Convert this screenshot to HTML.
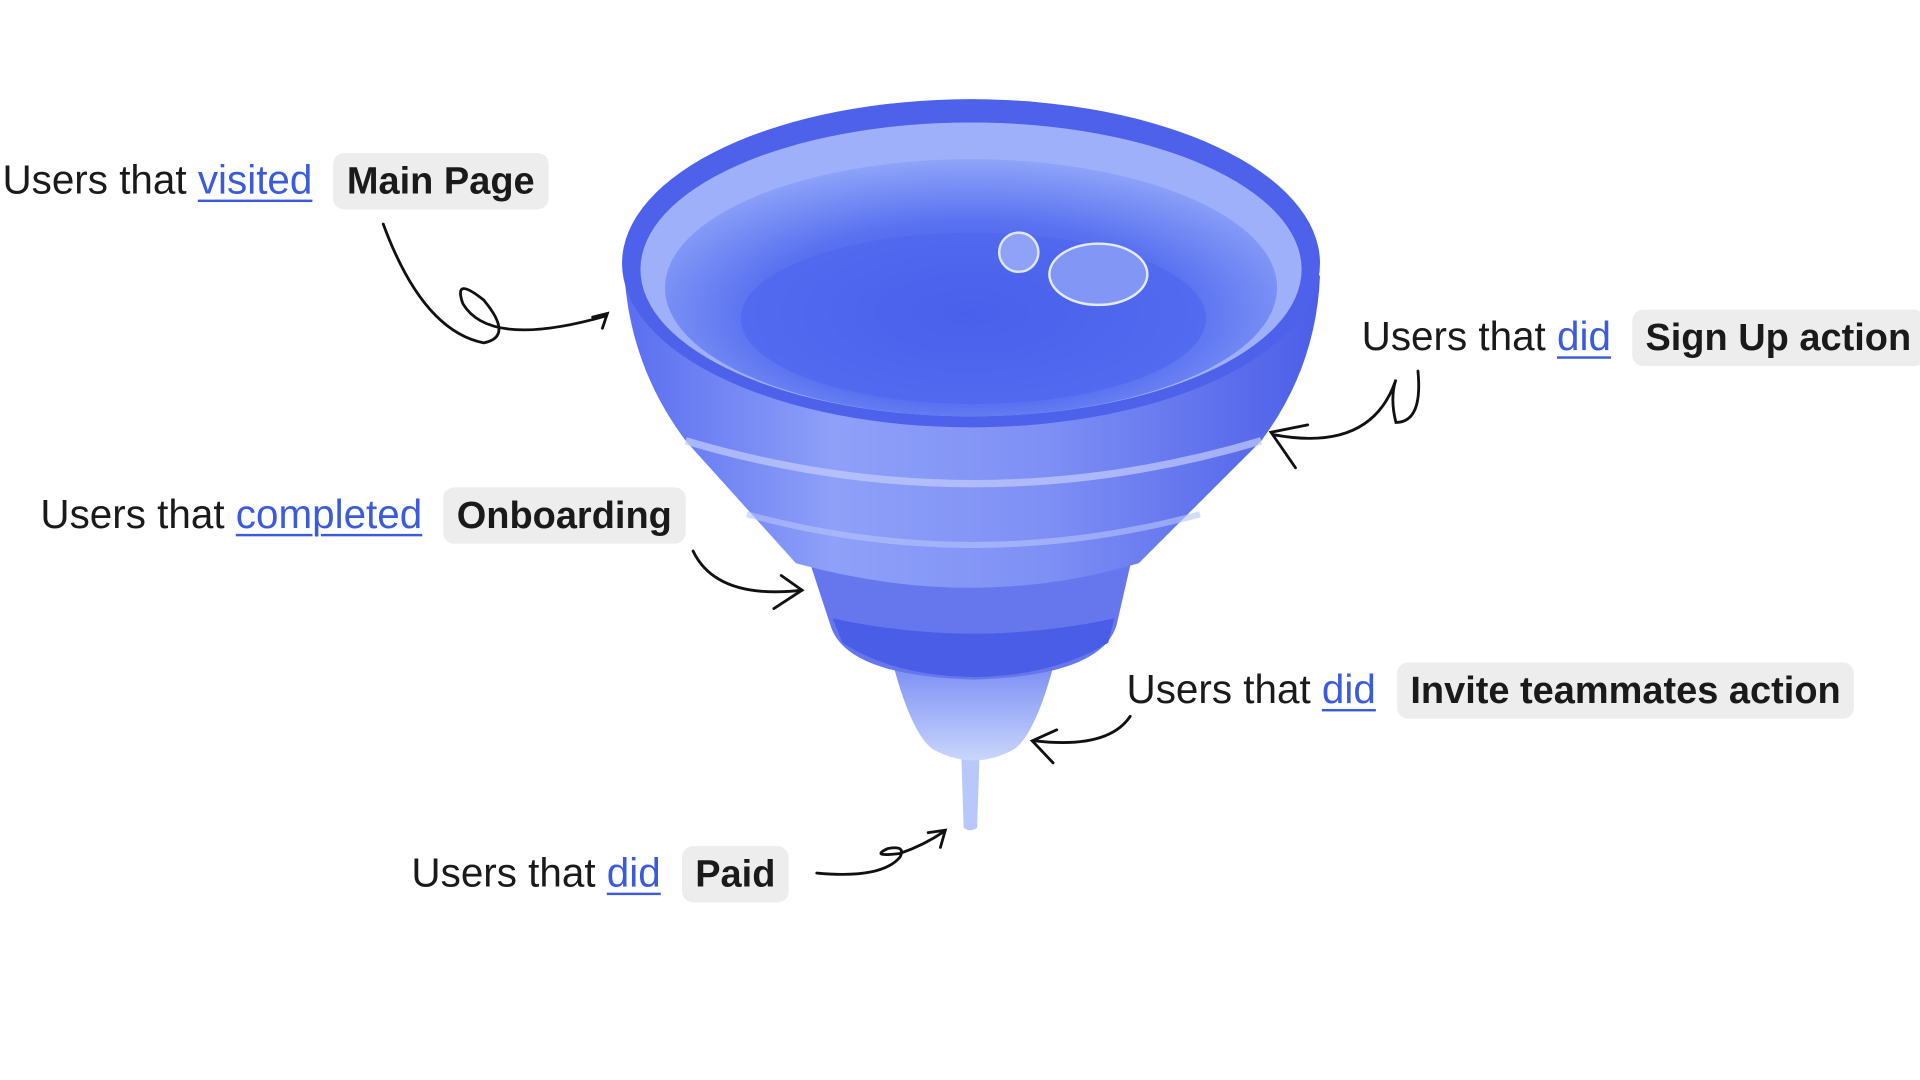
<!DOCTYPE html>
<html><head><meta charset="utf-8"><style>
html,body{margin:0;padding:0;background:#fff;width:1920px;height:1080px;overflow:hidden}
#w{position:absolute;left:0;top:0;width:1568px;height:882px;transform:scale(1.22449);transform-origin:0 0;font-family:"Liberation Sans",sans-serif}
.l{position:absolute;font-size:33px;color:#1a1a1a;white-space:nowrap;line-height:46px}
.l a{color:#3b5bdb;text-decoration:underline;text-decoration-thickness:2px;text-underline-offset:5px}
.p{display:inline-block;background:#ededed;border-radius:9px;padding:0 11px;font-weight:bold;margin-left:8px;height:46px;font-size:31px}
svg{position:absolute;left:0;top:0}
</style></head><body><div id="w">
<svg width="1568" height="882" viewBox="0 0 1568 882">
<defs>
<linearGradient id="body" x1="0" x2="1" y1="0" y2="0">
<stop offset="0" stop-color="#5a6ef0"/><stop offset="0.3" stop-color="#8ea0f8"/><stop offset="0.6" stop-color="#7f90f5"/><stop offset="1" stop-color="#4c5ee8"/></linearGradient>
<radialGradient id="water" cx="0.5" cy="0.6" r="0.6">
<stop offset="0" stop-color="#3d52e6"/><stop offset="0.6" stop-color="#5a72f0"/><stop offset="1" stop-color="#8fa4f8"/></radialGradient>
<linearGradient id="tip" x1="0" x2="0" y1="0" y2="1"><stop offset="0" stop-color="#7d8ff4"/><stop offset="1" stop-color="#c9d6fc"/></linearGradient>
</defs>
<path d="M785 615 L800 615 L798 676 Q792 680 787 676 Z" fill="#b9c8fb"/>
<path d="M730 545 L860 545 Q845 600 828 612 Q795 630 762 612 Q745 600 730 545 Z" fill="url(#tip)"/>
<path d="M655 440 L928 440 L912 510 Q900 552 795 555 Q690 552 678 510 Z" fill="#6677ee"/>
<path d="M680 505 Q795 530 910 505 L905 525 Q860 552 795 553 Q730 552 688 525 Z" fill="#4a5de6"/>
<path d="M510 225 Q515 300 560 360 L650 460 Q795 500 930 460 L1030 360 Q1075 300 1078 225 Z" fill="url(#body)"/>
<path d="M560 360 Q795 430 1030 360" fill="none" stroke="#c3cdfb" stroke-width="6" opacity=".7"/>
<path d="M610 420 Q795 470 980 420" fill="none" stroke="#b8c4fa" stroke-width="5" opacity=".6"/>
<ellipse cx="793" cy="215" rx="285" ry="134" fill="#4d61ea"/>
<ellipse cx="793" cy="220" rx="270" ry="120" fill="#9fb0fa"/>
<ellipse cx="793" cy="235" rx="250" ry="105" fill="url(#water)"/>
<ellipse cx="795" cy="260" rx="190" ry="70" fill="#4f67ee" opacity=".7"/>
<circle cx="832" cy="206" r="16" fill="#8fa2f7" stroke="#dfe6ff" stroke-width="2"/>
<ellipse cx="897" cy="224" rx="40" ry="25" fill="#8296f6" stroke="#e4eaff" stroke-width="2"/>
<g fill="none" stroke="#111" stroke-width="2.3" stroke-linecap="round">
<path d="M313 183 Q345 270 395 280 Q420 275 395 245 Q370 225 378 248 Q400 285 495 258"/>
<path d="M484 259 L496 256 L492 268"/>
<path d="M1158 303 Q1162 345 1140 345 Q1135 325 1140 310 Q1120 370 1040 355"/>
<path d="M1068 347 L1038 353 L1058 382"/>
<path d="M566 450 Q585 490 655 482"/>
<path d="M638 470 L655 482 L632 497"/>
<path d="M923 585 Q905 612 845 605"/>
<path d="M863 596 L843 605 L860 623"/>
<path d="M667 713 Q720 718 735 700 Q740 690 725 693 Q710 700 735 697 Q755 690 771 679"/>
<path d="M758 680 L772 678 L768 692"/>
</g>
</svg>
<div class="l" style="left:2px;top:124px">Users that <a>visited</a> <span class="p">Main Page</span></div>
<div class="l" style="left:1112px;top:252px">Users that <a>did</a> <span class="p">Sign Up action</span></div>
<div class="l" style="left:33px;top:397px">Users that <a>completed</a> <span class="p">Onboarding</span></div>
<div class="l" style="left:920px;top:540px">Users that <a>did</a> <span class="p">Invite teammates action</span></div>
<div class="l" style="left:336px;top:690px">Users that <a>did</a> <span class="p">Paid</span></div>
</div></body></html>
